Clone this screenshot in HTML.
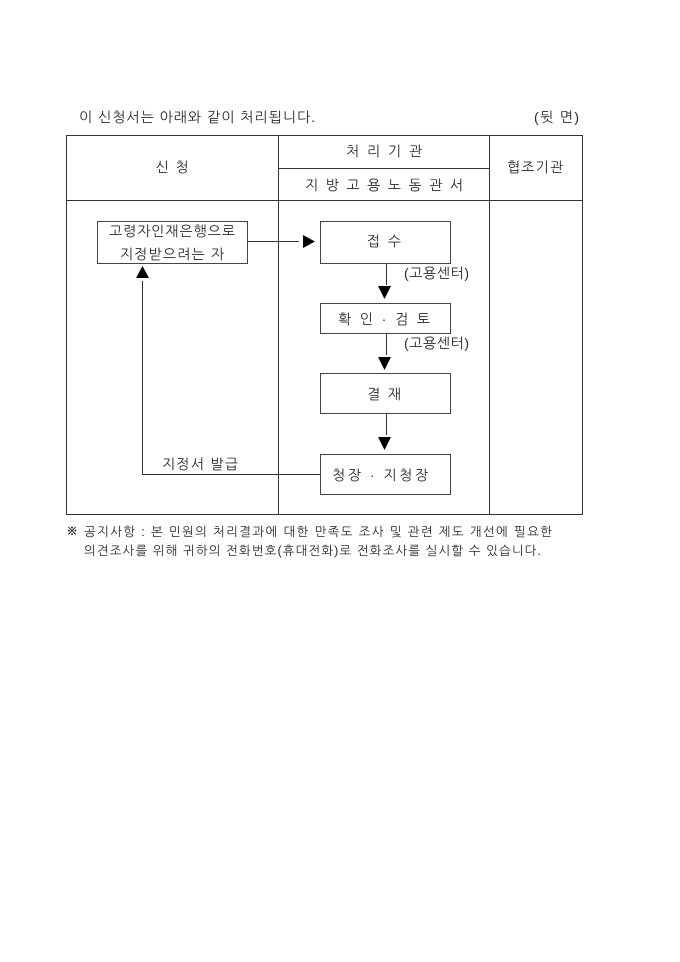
<!DOCTYPE html>
<html lang="ko">
<head>
<meta charset="utf-8">
<style>
html,body{margin:0;padding:0;background:#fff;width:680px;height:962px;overflow:hidden}
svg{display:block}
text{font-family:"Liberation Sans","NanumGothic","Noto Sans CJK KR",sans-serif;font-size:14px;fill:#2a2a2a}
.m{text-anchor:middle}
</style>
</head>
<body>
<svg width="680" height="962" viewBox="0 0 680 962" xmlns="http://www.w3.org/2000/svg">
<rect width="680" height="962" fill="#fff"/>
<text x="79" y="122" textLength="236" lengthAdjust="spacing">이 신청서는 아래와 같이 처리됩니다.</text>
<text x="534" y="122" textLength="45" lengthAdjust="spacing">(뒷 면)</text>

<g fill="none" stroke="#333" stroke-width="1">
<rect x="66.5" y="135.5" width="516" height="379"/>
<path d="M278.5 135.5V514.5M489.5 135.500V514.500M66.5 200.5H582.5M278.5 168.5H489.5"/>
</g>
<text x="172" y="172" class="m" textLength="33" lengthAdjust="spacing">신 청</text>
<text x="384" y="156" class="m" textLength="76" lengthAdjust="spacing">처 리 기 관</text>
<text x="384" y="190" class="m" textLength="158" lengthAdjust="spacing">지 방 고 용 노 동 관 서</text>
<text x="535" y="172" class="m" textLength="56" lengthAdjust="spacing">협조기관</text>

<g fill="#fff" stroke="#444" stroke-width="1">
<rect x="97.5" y="221.5" width="150" height="42"/>
<rect x="320.5" y="221.5" width="130" height="42"/>
<rect x="320.5" y="303.5" width="130" height="30"/>
<rect x="320.5" y="373.5" width="130" height="40"/>
<rect x="320.5" y="454.5" width="130" height="40"/>
</g>

<g fill="none" stroke="#333" stroke-width="1">
<path d="M247.5 241.5H299"/>
<path d="M142.500 281V474.500H320"/>
<path d="M386.500 264V285M386.500 334V355M386.500 414V435"/>
</g>
<g fill="#000">
<polygon points="303,235 303,248 315,241.500"/>
<polygon points="136,278 149,278 142.500,266"/>
<polygon points="378,286 391,286 384.500,299"/>
<polygon points="378,357 391,357 384.500,370"/>
<polygon points="378,437 391,437 384.500,450"/>
</g>

<text x="172" y="236" class="m" textLength="126" lengthAdjust="spacing">고령자인재은행으로</text>
<text x="172" y="259" class="m" textLength="104" lengthAdjust="spacing">지정받으려는 자</text>
<text x="384" y="246" class="m" textLength="34" lengthAdjust="spacing">접 수</text>
<text x="384" y="324" class="m" textLength="92" lengthAdjust="spacing">확 인 · 검 토</text>
<text x="384" y="399" class="m" textLength="34" lengthAdjust="spacing">결 재</text>
<text x="380" y="480" class="m" textLength="96" lengthAdjust="spacing">청장 · 지청장</text>
<text x="404" y="278" textLength="65" lengthAdjust="spacing">(고용센터)</text>
<text x="404" y="348" textLength="65" lengthAdjust="spacing">(고용센터)</text>
<text x="162" y="469" textLength="76" lengthAdjust="spacing">지정서 발급</text>

<text x="66" y="535" style="font-size:13px;font-weight:bold">※</text>
<text x="84" y="536" style="font-size:12.500px" textLength="468" lengthAdjust="spacing">공지사항 : 본 민원의 처리결과에 대한 만족도 조사 및 관련 제도 개선에 필요한</text>
<text x="84" y="555" style="font-size:12.500px" textLength="457" lengthAdjust="spacing">의견조사를 위해 귀하의 전화번호(휴대전화)로 전화조사를 실시할 수 있습니다.</text>
</svg>
</body>
</html>
